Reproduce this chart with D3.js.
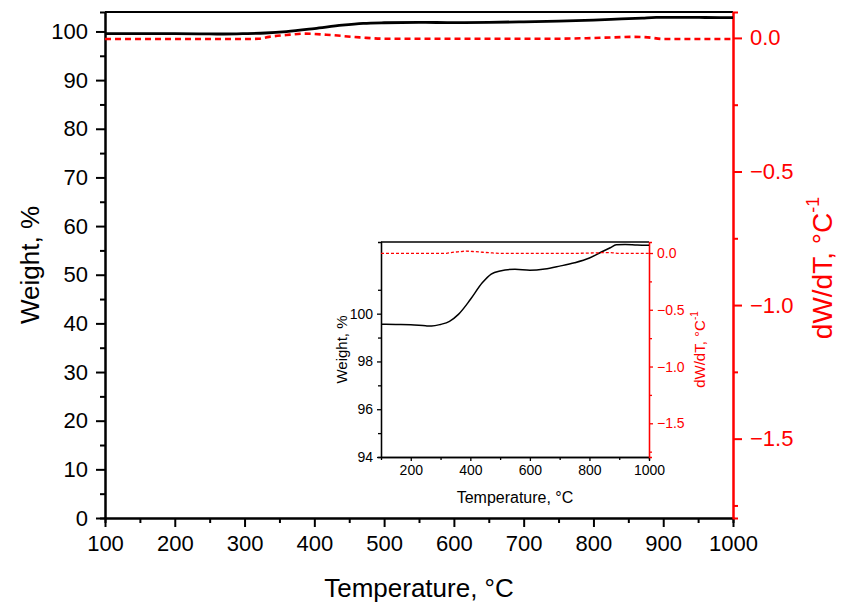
<!DOCTYPE html>
<html>
<head>
<meta charset="utf-8">
<script src="https://cdn.jsdelivr.net/npm/d3@7"></script>
<style>
  body { margin: 0; background: #fff; }
  text { font-family: "Liberation Sans", Arial, sans-serif; }
</style>
</head>
<body>
<svg id="chart" width="842" height="610"></svg>
<script>
// 1: DATA
const temperature = [100, 150, 200, 250, 270, 300, 330, 360, 400, 440, 470, 500, 550, 600, 650, 700, 750, 800, 840, 870, 890, 920, 960, 1000];
const weight = [99.56, 99.55, 99.54, 99.49, 99.48, 99.55, 99.68, 99.97, 100.59, 101.29, 101.66, 101.79, 101.86, 101.82, 101.87, 101.99, 102.13, 102.33, 102.58, 102.76, 102.88, 102.90, 102.87, 102.86];

const derivTemperature = [100, 200, 300, 320, 335, 360, 386, 417, 465, 501, 600, 742, 790, 830, 857, 878, 900, 1000];
const dWdT = [-0.004, -0.004, -0.004, -0.003, 0.004, 0.011, 0.016, 0.012, 0.002, -0.003, -0.003, -0.003, -0.001, 0.002, 0.004, 0.002, -0.004, -0.004];

const xMajor = d3.range(100, 1001, 100);
const xMinor = d3.range(150, 1000, 100);
const yMajor = d3.range(0, 101, 10);
const yMinor = d3.range(5, 100, 10);
const rMajor = [0, -0.5, -1.0, -1.5];
const rMinor = [-0.25, -0.75, -1.25, -1.75];

const insetXMajor = [200, 400, 600, 800, 1000];
const insetXMinor = [300, 500, 700, 900];
const insetYMajor = [94, 96, 98, 100];
const insetYMinor = [95, 97, 99, 101];

const weightSeries = temperature.map((t, i) => ({ t: t, v: weight[i] }));
const derivSeries = derivTemperature.map((t, i) => ({ t: t, v: dWdT[i] }));

// 2: LAYOUT
const margin = { top: 12, right: 109, bottom: 92, left: 105 };
const width = 842 - margin.left - margin.right;
const height = 610 - margin.top - margin.bottom;
const RED = "#ff0000";

const svg = d3.select("#chart");

// 3: SCALES (main)
const xScale = d3.scaleLinear().domain([100, 1000]).range([margin.left, margin.left + width]);
const yScale = d3.scaleLinear().domain([0, 104]).range([margin.top + height, margin.top]);
const yRight = d3.scaleLinear().domain([-1.797, 0.097]).range([margin.top + height, margin.top]);

// helper to draw an axis with major + minor ticks
function drawAxis(g, axisFn, scale, major, minor, big, small, fmt, size, color, lw) {
    g.append("g").call(axisFn(scale).tickValues(minor).tickSize(small).tickFormat(""));
    const a = g.append("g").call(axisFn(scale).tickValues(major).tickSize(big).tickSizeOuter(0).tickPadding(big > 6 ? 8 : 4).tickFormat(fmt));
    g.selectAll("path.domain").attr("stroke", color).attr("stroke-width", lw);
    g.selectAll(".tick line").attr("stroke", color).attr("stroke-width", lw);
    a.selectAll("text").attr("fill", color).style("font-size", size + "px").style("font-family", "'Liberation Sans', Arial, sans-serif");
}

// 4: MAIN AXES
const gx = svg.append("g").attr("transform", `translate(0,${margin.top + height})`);
drawAxis(gx, d3.axisBottom, xScale, xMajor, xMinor, 9, 5, d3.format("d"), 22, "#000", 2);

const gy = svg.append("g").attr("transform", `translate(${margin.left},0)`);
drawAxis(gy, d3.axisLeft, yScale, yMajor, yMinor, 9, 5, d3.format("d"), 22, "#000", 2);

// top frame
svg.append("line")
    .attr("x1", xScale(100)).attr("x2", xScale(1000))
    .attr("y1", yScale(104)).attr("y2", yScale(104))
    .attr("stroke", "#000").attr("stroke-width", 2);

const gr = svg.append("g").attr("transform", `translate(${margin.left + width},0)`);
drawAxis(gr, d3.axisRight, yRight, rMajor, rMinor, 9, 5, d3.format(".1f"), 22, RED, 2);

// 5: MAIN LINES
const wLine = d3.line().x(d => xScale(d.t)).y(d => yScale(d.v)).curve(d3.curveMonotoneX);
const dLine = d3.line().x(d => xScale(d.t)).y(d => yRight(d.v)).curve(d3.curveMonotoneX);

svg.append("path").datum(weightSeries)
    .attr("fill", "none").attr("stroke", "#000").attr("stroke-width", 2.8)
    .attr("d", wLine);

svg.append("path").datum(derivSeries)
    .attr("fill", "none").attr("stroke", RED).attr("stroke-width", 2.6)
    .attr("stroke-dasharray", "6,4")
    .attr("d", dLine);

// 6: MAIN LABELS
svg.append("text")
    .attr("x", margin.left + width / 2).attr("y", 597)
    .attr("text-anchor", "middle").style("font-size", "26px")
    .text("Temperature, °C");

svg.append("text")
    .attr("transform", `translate(30,${margin.top + height / 2}) rotate(-90)`)
    .attr("text-anchor", "middle").attr("dy", "0.35em").style("font-size", "26px")
    .text("Weight, %");

const rt = svg.append("text")
    .attr("transform", `translate(822,${margin.top + height / 2 + 3}) rotate(-90)`)
    .attr("text-anchor", "middle").attr("dy", "0.35em").style("font-size", "28px")
    .attr("fill", RED);
rt.append("tspan").text("dW/dT, °C");
rt.append("tspan").attr("dy", "-0.7em").style("font-size", "18px").text("-1");

// 7: INSET
const inset = { left: 381, right: 649, top: 242, bottom: 457 };
const ix = d3.scaleLinear().domain([100, 1000]).range([inset.left, inset.right]);
const iy = d3.scaleLinear().domain([94, 103]).range([inset.bottom, inset.top]);
const iyR = d3.scaleLinear().domain([-1.797, 0.097]).range([inset.bottom, inset.top]);

svg.append("rect")
    .attr("x", inset.left).attr("y", inset.top)
    .attr("width", inset.right - inset.left).attr("height", inset.bottom - inset.top)
    .attr("fill", "#fff");

const igx = svg.append("g").attr("transform", `translate(0,${inset.bottom})`);
drawAxis(igx, d3.axisBottom, ix, insetXMajor, insetXMinor, 4, 3, d3.format("d"), 14, "#000", 1.3);

const igy = svg.append("g").attr("transform", `translate(${inset.left},0)`);
drawAxis(igy, d3.axisLeft, iy, insetYMajor, insetYMinor, 4, 3, d3.format("d"), 14, "#000", 1.3);

svg.append("line")
    .attr("x1", ix(100)).attr("x2", ix(1000))
    .attr("y1", iy(103)).attr("y2", iy(103))
    .attr("stroke", "#000").attr("stroke-width", 1.3);

const igr = svg.append("g").attr("transform", `translate(${inset.right},0)`);
drawAxis(igr, d3.axisRight, iyR, rMajor, rMinor, 4, 3, d3.format(".1f"), 14, RED, 1.3);

const iwLine = d3.line().x(d => ix(d.t)).y(d => iy(d.v)).curve(d3.curveMonotoneX);
const idLine = d3.line().x(d => ix(d.t)).y(d => iyR(d.v)).curve(d3.curveMonotoneX);

svg.append("path").datum(weightSeries)
    .attr("fill", "none").attr("stroke", "#000").attr("stroke-width", 1.5)
    .attr("d", iwLine);

svg.append("path").datum(derivSeries)
    .attr("fill", "none").attr("stroke", RED).attr("stroke-width", 1.3)
    .attr("stroke-dasharray", "3,2")
    .attr("d", idLine);

svg.append("text")
    .attr("x", (inset.left + inset.right) / 2).attr("y", 503)
    .attr("text-anchor", "middle").style("font-size", "16px")
    .text("Temperature, °C");

svg.append("text")
    .attr("transform", `translate(342,${(inset.top + inset.bottom) / 2}) rotate(-90)`)
    .attr("text-anchor", "middle").attr("dy", "0.35em").style("font-size", "15px")
    .text("Weight, %");

const irt = svg.append("text")
    .attr("transform", `translate(700,${(inset.top + inset.bottom) / 2}) rotate(-90)`)
    .attr("text-anchor", "middle").attr("dy", "0.35em").style("font-size", "15px")
    .attr("fill", RED);
irt.append("tspan").text("dW/dT, °C");
irt.append("tspan").attr("dy", "-0.7em").style("font-size", "10px").text("-1");
</script>
</body>
</html>
